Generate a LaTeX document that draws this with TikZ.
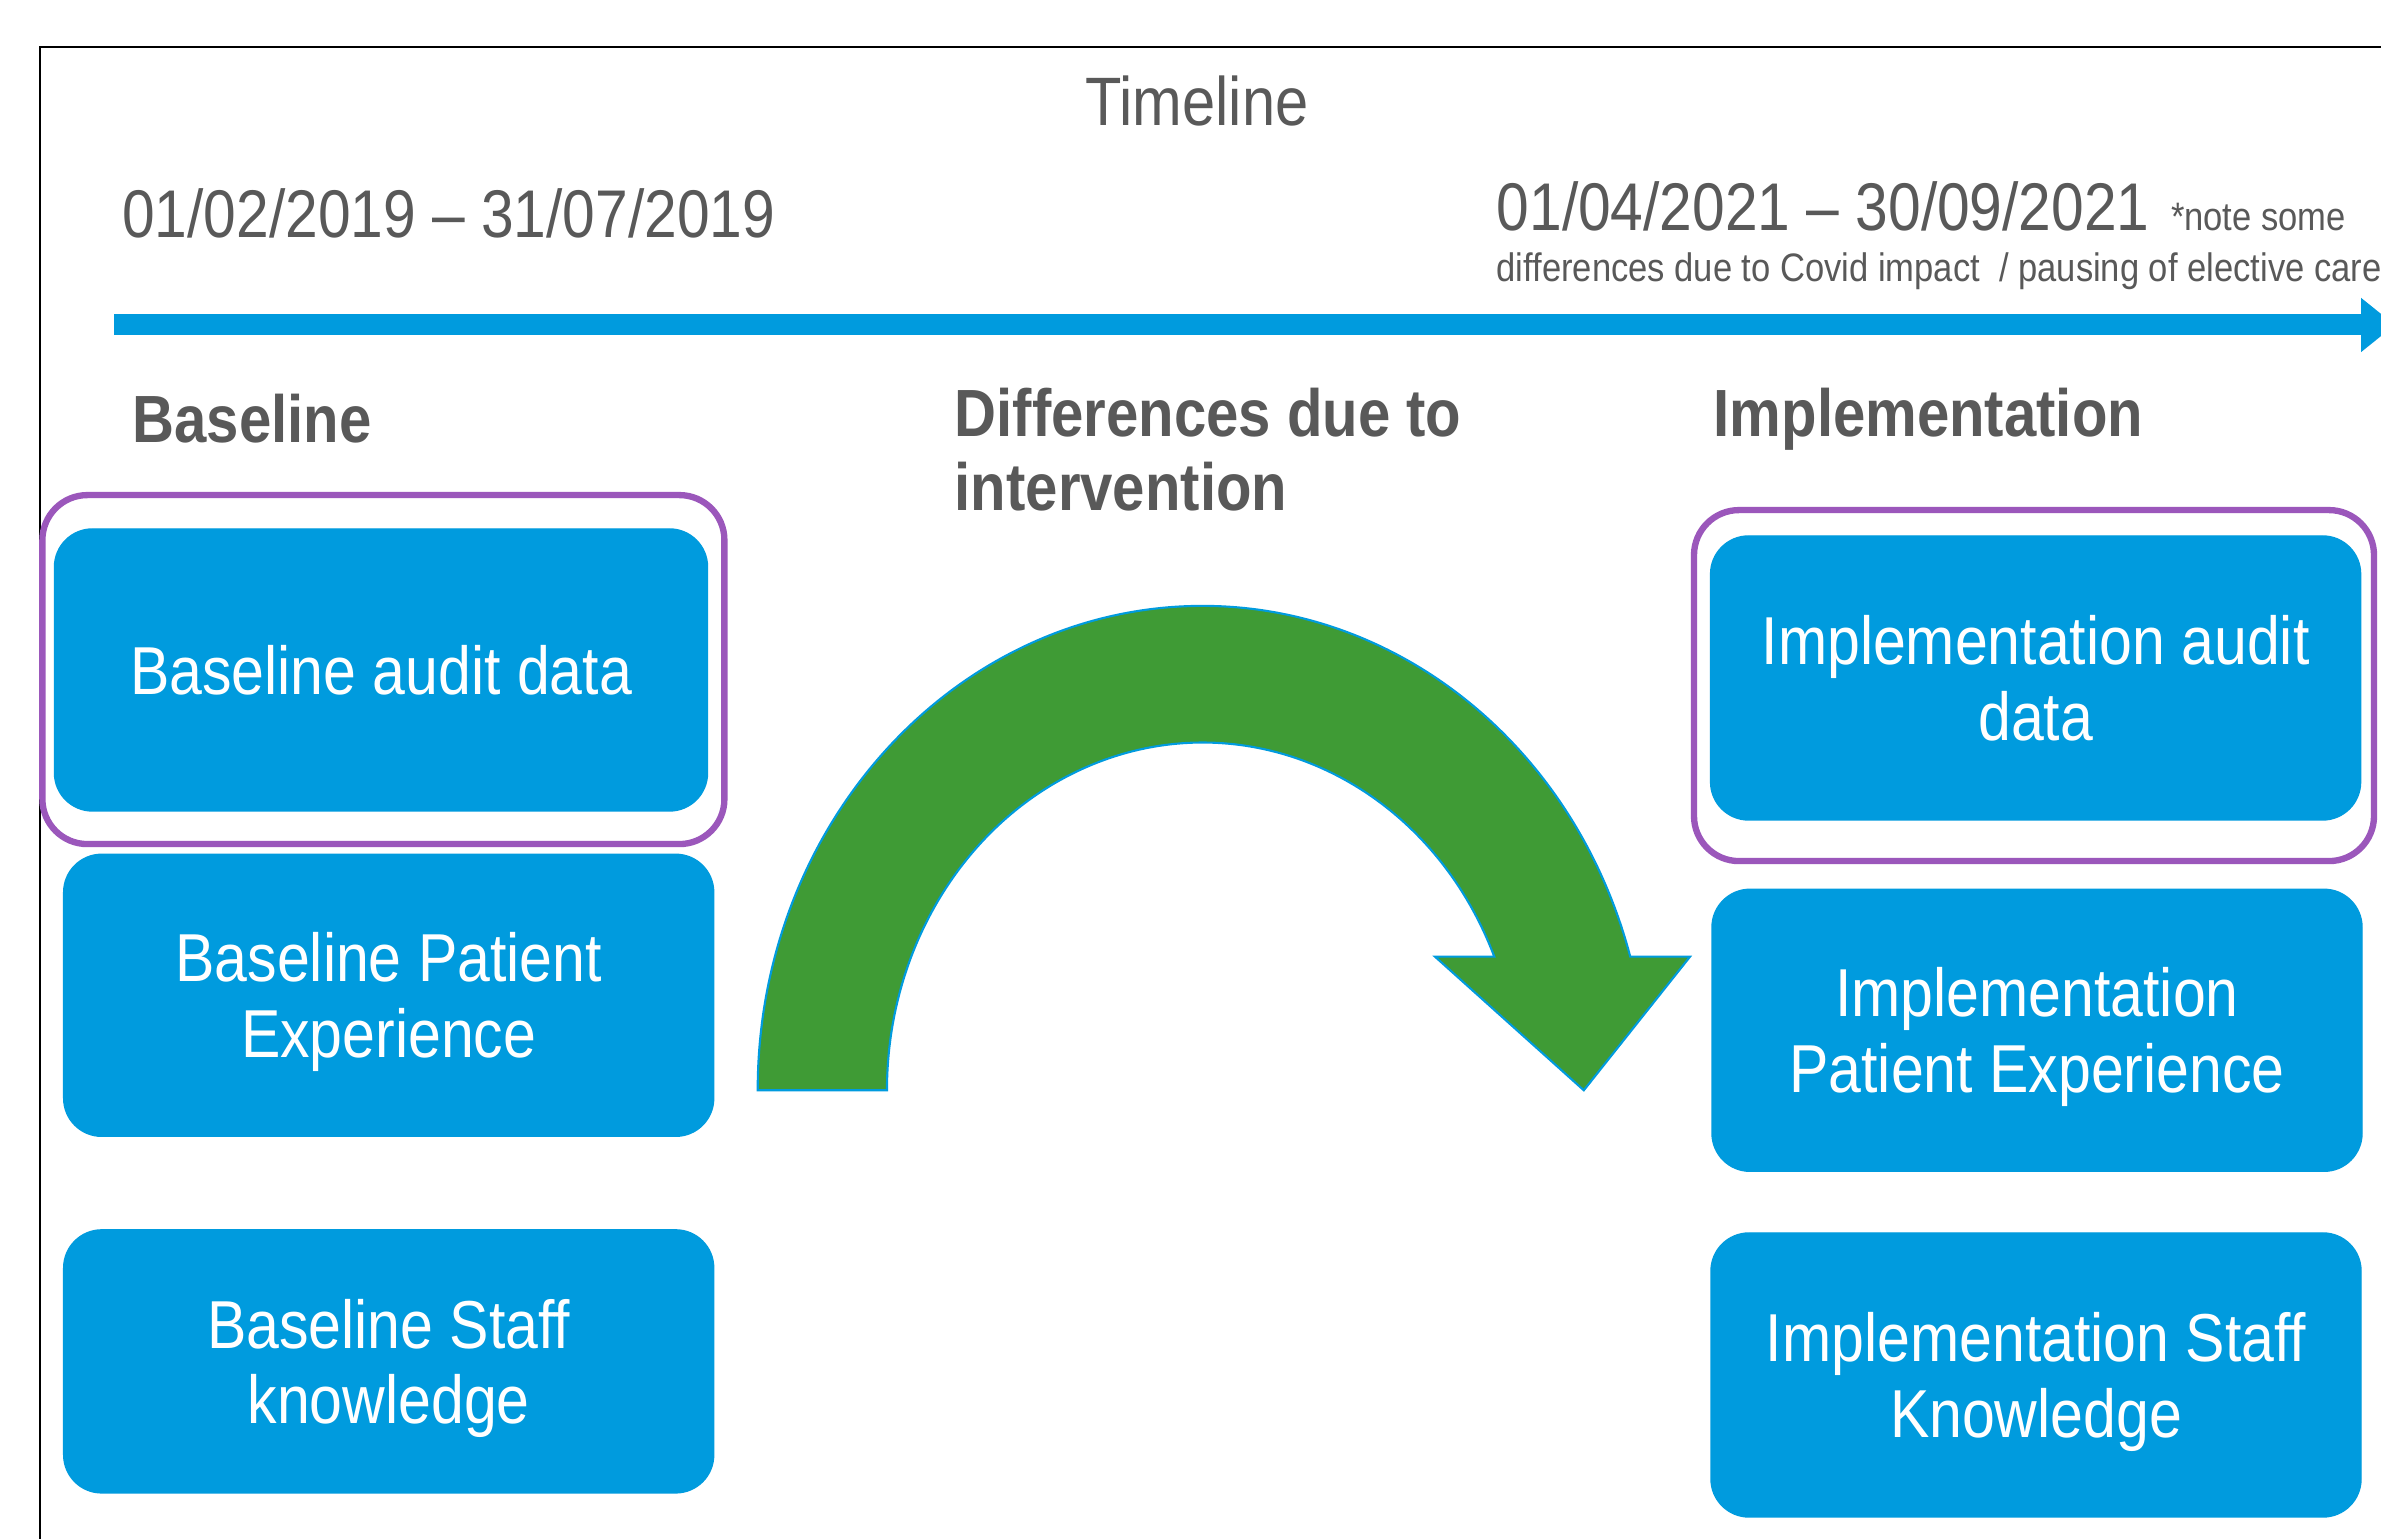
\documentclass[tikz,border=0pt]{standalone}
\usepackage{fontspec}
\setmainfont{Liberation Sans}[FakeStretch=0.87]
\usetikzlibrary{arrows.meta}
\definecolor{boxblue}{RGB}{0,155,222}
\definecolor{arcgreen}{RGB}{63,155,53}
\definecolor{ringpurple}{RGB}{155,87,187}
\definecolor{textgray}{RGB}{89,89,89}
\tikzset{
  databox/.style={fill=boxblue,draw=boxblue,rounded corners=0.38cm,text=white,
    align=center,inner sep=0pt,text depth=0pt,minimum width=6.5cm,minimum height=2.82cm,
    font=\fontsize{19.3}{21.6}\selectfont},
  ring/.style={draw=ringpurple,line width=1.8pt,rounded corners=0.45cm,inner sep=0pt},
  heading/.style={text=textgray,anchor=base west,inner sep=0pt,align=left,
    font=\fontsize{19}{21.2}\selectfont\bfseries},
  datetext/.style={text=textgray,anchor=base west,inner sep=0pt,
    font=\fontsize{19.2}{23}\selectfont},
  notetext/.style={text=textgray,anchor=base west,inner sep=0pt,
    font=\fontsize{11.3}{13}\selectfont}
}
\begin{document}
\begin{tikzpicture}
\useasboundingbox (0,0) rectangle (23.81,15.39);
\fill[white] (0,0) rectangle (23.81,15.39);
\draw[line width=0.7pt] (0.40,-1) -- (0.40,14.92) -- (25,14.92);

\node[text=textgray,anchor=base,inner sep=0pt,font=\fontsize{19.5}{22}\selectfont]
  (timeline) at (11.97,14.13) {Timeline};
\node[datetext] (startdate) at (1.215,13.01) {01/02/2019 – 31/07/2019};
\node[datetext] (enddate) at (14.96,13.08) {01/04/2021 – 30/09/2021};
\node[notetext] (covidnote) at ([xshift=0.2cm]enddate.base east) {*note some};
\node[notetext] (covidnote2) at (14.96,12.57)
  {differences due to Covid impact\ \ / pausing of elective care};

\coordinate (tl start) at (1.14,12.14);
\coordinate (tl end) at (23.95,12.14);
\draw[boxblue,line width=0.21cm,-{Triangle[length=0.34cm,width=0.52cm]}]
  (tl start) -- (tl end);

\node[heading] (basehead) at (1.32,10.96) {Baseline};
\node[heading] (diffhead) at (9.54,10.28) {Differences due to\\intervention};
\node[heading] (implhead) at (17.13,11.02) {Implementation};

\node[ring,minimum width=6.82cm,minimum height=3.49cm] (basering) at (3.834,8.694) {};
\node[ring,minimum width=6.8cm,minimum height=3.51cm] (implring) at (20.34,8.534) {};

\node[databox,minimum width=6.53cm] (baseaudit) at (3.81,8.69) {Baseline audit data};
\node[databox] (basepatient) at (3.887,5.437) {Baseline Patient\\Experience};
\node[databox,minimum height=2.63cm] (basestaff) at (3.887,1.776) {Baseline Staff\\knowledge};
\node[databox,minimum height=2.84cm] (implaudit) at (20.356,8.61) {Implementation audit\\data};
\node[databox] (implpatient) at (20.37,5.087) {Implementation\\Patient Experience};
\node[databox,minimum height=2.84cm] (implstaff) at (20.36,1.64) {Implementation Staff\\Knowledge};

\draw[fill=arcgreen,draw=boxblue,line width=0.6pt]
  (7.577,4.487) arc[start angle=180,end angle=16.01,x radius=4.449,y radius=4.844]
  -- (16.90,5.823) -- (15.838,4.487) -- (14.35,5.823) -- (14.943,5.823)
  arc[start angle=22.6,end angle=180,x radius=3.158,y radius=3.477] -- cycle;
\end{tikzpicture}
\end{document}
